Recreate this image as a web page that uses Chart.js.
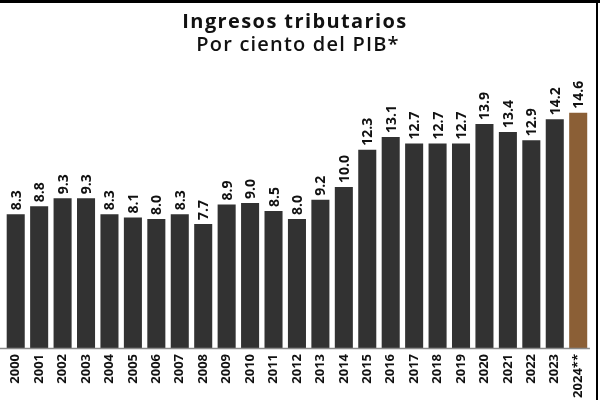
<!DOCTYPE html>
<html>
<head>
<meta charset="utf-8">
<script src="https://cdn.jsdelivr.net/npm/chart.js@4.4.1/dist/chart.umd.min.js"></script>
<style>
html,body{margin:0;padding:0;background:#fff;}
#wrap{width:600px;height:400px;position:relative;}
</style>
</head>
<body>
<div id="wrap"><canvas id="c" width="600" height="400"></canvas></div>
<script>
const titleLines = ["Ingresos tributarios", "Por ciento del PIB*"];
const years = ["2000","2001","2002","2003","2004","2005","2006","2007","2008","2009","2010","2011","2012","2013","2014","2015","2016","2017","2018","2019","2020","2021","2022","2023","2024**"];
const values = [8.3,8.8,9.3,9.3,8.3,8.1,8.0,8.3,7.7,8.9,9.0,8.5,8.0,9.2,10.0,12.3,13.1,12.7,12.7,12.7,13.9,13.4,12.9,14.2,14.6];
const darkColor = "#323232";
const estimateColor = "#8b5f36";
const barColors = years.map(y => y.indexOf("**") >= 0 ? estimateColor : darkColor);

const decor = {
  id: "decor",
  beforeDraw(chart) {
    const ctx = chart.ctx;
    ctx.save();
    ctx.fillStyle = "#fff";
    ctx.fillRect(0, 0, chart.width, chart.height);
    ctx.restore();
  },
  afterDatasetsDraw(chart) {
    const ctx = chart.ctx;
    const area = chart.chartArea;
    ctx.save();
    // baseline
    ctx.strokeStyle = "#8a8a8a";
    ctx.lineWidth = 1.5;
    ctx.beginPath();
    ctx.moveTo(0, area.bottom + 0.5);
    ctx.lineTo(area.right, area.bottom + 0.5);
    ctx.stroke();
    // value labels
    const meta = chart.getDatasetMeta(0);
    ctx.fillStyle = "#111";
    ctx.font = "bold 14px 'Open Sans', sans-serif";
    ctx.textAlign = "left";
    ctx.textBaseline = "middle";
    meta.data.forEach((bar, i) => {
      ctx.save();
      ctx.translate(bar.x + 1, bar.y - 4);
      ctx.rotate(-Math.PI / 2);
      ctx.fillText(values[i].toFixed(1), 0, 0);
      ctx.restore();
    });
    // title
    ctx.fillStyle = "#111";
    ctx.textAlign = "center";
    ctx.textBaseline = "alphabetic";
    ctx.letterSpacing = "1.4px";
    ctx.font = "bold 20px 'Open Sans', sans-serif";
    ctx.fillText(titleLines[0], 295, 28);
    ctx.font = "600 20px 'Open Sans', sans-serif";
    ctx.letterSpacing = "1.2px";
    ctx.fillText(titleLines[1], 298, 51);
    ctx.letterSpacing = "0px";
    // frame lines
    ctx.fillStyle = "#000";
    ctx.fillRect(0, 0, 600, 3);
    ctx.fillRect(596, 0, 2, 400);
    ctx.restore();
  }
};

new Chart(document.getElementById("c"), {
  type: "bar",
  data: {
    labels: years,
    datasets: [{
      data: values,
      backgroundColor: barColors,
      borderWidth: 0,
      categoryPercentage: 1,
      barPercentage: 0.77
    }]
  },
  options: {
    responsive: false,
    animation: false,
    devicePixelRatio: 1,
    layout: { padding: { top: 58, left: 4, right: 10, bottom: 0 } },
    plugins: { legend: { display: false }, tooltip: { enabled: false }, title: { display: false } },
    scales: {
      x: {
        grid: { display: false, drawTicks: false },
        border: { display: false },
        afterFit(scale) { scale.height = 52; },
        ticks: {
          autoSkip: false,
          minRotation: 90,
          maxRotation: 90,
          padding: 6,
          color: "#111",
          font: { family: "'Open Sans', sans-serif", weight: "bold", size: 13 }
        }
      },
      y: { display: false, min: 0, max: 18 }
    }
  },
  plugins: [decor]
});
</script>
</body>
</html>
